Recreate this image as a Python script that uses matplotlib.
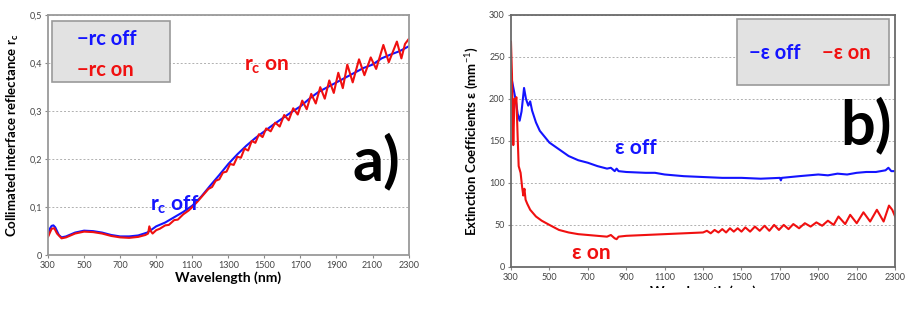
import matplotlib
matplotlib.use("Agg")
import matplotlib.pyplot as plt
from matplotlib.patches import Rectangle

plt.rcParams['font.family'] = ['Lato', 'DejaVu Sans']
plt.rcParams['mathtext.fontset'] = 'custom'
plt.rcParams['mathtext.bf'] = 'Lato:bold'
plt.rcParams['mathtext.rm'] = 'Lato'

BLUE = "#1414ff"
RED = "#f01010"

# ---------------------------------------------------------------------------
# Data
# ---------------------------------------------------------------------------
wl_a_off = [300, 310, 320, 330, 340, 350, 360, 375, 400, 450, 500, 550, 600,
            650, 700, 750, 800, 850, 870, 900, 950, 1000, 1050, 1100, 1150,
            1200, 1250, 1300, 1350, 1400, 1450, 1500, 1550, 1600, 1650, 1700,
            1750, 1800, 1850, 1900, 1950, 2000, 2050, 2100, 2150, 2200, 2250,
            2300]
rc_off = [0.040, 0.055, 0.061, 0.062, 0.058, 0.050, 0.042, 0.037, 0.039,
          0.047, 0.051, 0.050, 0.047, 0.042, 0.039, 0.039, 0.041, 0.047,
          0.052, 0.060, 0.068, 0.079, 0.090, 0.103, 0.122, 0.145, 0.167,
          0.190, 0.210, 0.228, 0.244, 0.258, 0.272, 0.285, 0.298, 0.310,
          0.326, 0.340, 0.350, 0.360, 0.370, 0.380, 0.390, 0.397, 0.410,
          0.418, 0.425, 0.435]

wl_a_on = [300, 320, 335, 350, 375, 400, 450, 500, 550, 600, 650, 700, 750,
           800, 840, 855, 862, 870, 880, 900, 920, 950, 970, 1000, 1020, 1050,
           1080, 1100, 1130, 1160, 1190, 1210, 1230, 1250, 1270, 1290, 1310,
           1330, 1350, 1370, 1390, 1410, 1430, 1450, 1470, 1490, 1510, 1535,
           1560, 1585, 1610, 1635, 1660, 1685, 1710, 1735, 1760, 1785, 1810,
           1835, 1860, 1885, 1910, 1935, 1960, 1990, 2025, 2055, 2090, 2120,
           2160, 2190, 2235, 2260, 2280, 2300]
rc_on = [0.038, 0.055, 0.056, 0.045, 0.035, 0.037, 0.045, 0.049, 0.048, 0.045,
         0.040, 0.037, 0.036, 0.038, 0.042, 0.045, 0.060, 0.050, 0.045, 0.052,
         0.055, 0.062, 0.063, 0.073, 0.074, 0.085, 0.093, 0.100, 0.112, 0.125,
         0.138, 0.142, 0.155, 0.158, 0.172, 0.174, 0.190, 0.188, 0.205, 0.203,
         0.222, 0.218, 0.238, 0.234, 0.252, 0.246, 0.264, 0.258, 0.276, 0.268,
         0.292, 0.281, 0.306, 0.293, 0.322, 0.304, 0.336, 0.316, 0.350, 0.326,
         0.364, 0.338, 0.380, 0.348, 0.397, 0.360, 0.408, 0.375, 0.412, 0.388,
         0.438, 0.402, 0.445, 0.410, 0.440, 0.450]

wl_b_off = [300, 305, 315, 325, 335, 345, 355, 368, 378, 390, 400, 410, 430,
            450, 475, 500, 550, 600, 650, 700, 750, 800, 820, 840, 850, 860,
            900, 1000, 1050, 1100, 1200, 1300, 1400, 1500, 1600, 1700, 1705,
            1710, 1800, 1900, 1950, 2000, 2050, 2100, 2150, 2200, 2250, 2265,
            2280, 2300]
eps_off = [230, 222, 210, 198, 182, 174, 185, 213, 200, 192, 197, 186, 172,
           162, 155, 148, 140, 132, 127, 124, 120, 117, 118, 114, 117, 114,
           113, 112, 112, 110, 108, 107, 106, 106, 105, 106, 103, 106, 108,
           110, 109, 111, 110, 112, 113, 113, 115, 118, 114, 114]

wl_b_on = [300, 305, 312, 318, 322, 328, 334, 340, 350, 358, 364, 370, 376,
           385, 400, 430, 460, 500, 550, 600, 650, 700, 750, 800, 820, 840,
           850, 860, 900, 1000, 1100, 1200, 1300, 1320, 1340, 1360, 1380,
           1400, 1420, 1440, 1460, 1480, 1500, 1520, 1545, 1570, 1595, 1620,
           1645, 1670, 1695, 1720, 1745, 1770, 1800, 1830, 1860, 1890, 1920,
           1950, 1980, 2005, 2040, 2066, 2100, 2135, 2170, 2205, 2240, 2268,
           2285, 2300]
eps_on = [268, 230, 145, 200, 195, 202, 160, 120, 112, 95, 85, 93, 80, 75, 68,
          60, 55, 50, 44, 41, 39, 38, 37, 36, 38, 34, 33, 36, 37, 38, 39, 40,
          41, 43, 40, 44, 41, 45, 41, 46, 42, 46, 42, 47, 42, 48, 43, 49, 43,
          50, 44, 50, 45, 51, 46, 52, 48, 53, 49, 55, 50, 60, 51, 62, 52, 65,
          54, 68, 54, 73, 68, 60]

x_ticks = [300, 500, 700, 900, 1100, 1300, 1500, 1700, 1900, 2100, 2300]
a_yticks = [0, 0.1, 0.2, 0.3, 0.4, 0.5]
a_ylabels = ["0", "0,1", "0,2", "0,3", "0,4", "0,5"]
b_yticks = [0, 50, 100, 150, 200, 250, 300]


def style_axes(ax, spine_color):
    for s in ax.spines.values():
        s.set_color(spine_color)
        s.set_linewidth(1.3)
    ax.tick_params(labelsize=6.5, labelcolor="#444444", length=2.5,
                   color="#888888", width=0.8, pad=2)
    ax.yaxis.grid(True, linestyle=(0, (2, 2)), color="#b0b0b0", linewidth=0.7)
    ax.set_axisbelow(True)
    ax.set_xlim(300, 2300)
    ax.set_xticks(x_ticks)


fig = plt.figure(figsize=(9.06, 3.10), dpi=100)

# ---------------------------------------------------------------------------
# a) collimated interface reflectance
# ---------------------------------------------------------------------------
ax1 = fig.add_axes([0.053, 0.177, 0.398, 0.774])
style_axes(ax1, "#9a9a9a")
ax1.plot(wl_a_off, rc_off, color=BLUE, lw=1.5)
ax1.plot(wl_a_on, rc_on, color=RED, lw=1.5)
ax1.set_ylim(0, 0.5)
ax1.set_yticks(a_yticks)
ax1.set_yticklabels(a_ylabels)
ax1.set_xlabel("Wavelength (nm)", fontsize=10, fontweight="bold", labelpad=1)
ax1.set_ylabel(r"Collimated interface reflectance $\mathbf{r_c}$",
               fontsize=9.5, fontweight="bold", labelpad=6)

ax1.add_patch(Rectangle((0.012, 0.72), 0.325, 0.255, transform=ax1.transAxes,
                        facecolor="#e2e2e2", edgecolor="#9a9a9a", lw=1.2,
                        zorder=4))
ax1.text(0.08, 0.9, "\u2212rc off", transform=ax1.transAxes, color=BLUE,
         fontsize=14.5, fontweight="bold", ha="left", va="center", zorder=5)
ax1.text(0.08, 0.77, "\u2212rc on", transform=ax1.transAxes, color=RED,
         fontsize=14.5, fontweight="bold", ha="left", va="center", zorder=5)
ax1.text(1510, 0.395, r"$\mathbf{r_c}$ on", color=RED, fontsize=15,
         fontweight="bold", ha="center", va="center")
ax1.text(1000, 0.105, r"$\mathbf{r_c}$ off", color=BLUE, fontsize=15,
         fontweight="bold", ha="center", va="center")
ax1.text(2120, 0.195, "a)", color="black", fontsize=44, fontweight="bold",
         ha="center", va="center")

# ---------------------------------------------------------------------------
# b) extinction coefficients
# ---------------------------------------------------------------------------
ax2 = fig.add_axes([0.564, 0.139, 0.424, 0.813])
style_axes(ax2, "#6a6a6a")
ax2.plot(wl_b_off, eps_off, color=BLUE, lw=1.5)
ax2.plot(wl_b_on, eps_on, color=RED, lw=1.5)
ax2.set_ylim(0, 300)
ax2.set_yticks(b_yticks)
ax2.set_xlabel("Wavelength (nm)", fontsize=10, fontweight="bold", labelpad=2)
ax2.set_ylabel("Extinction Coefficients \u03b5 (mm$^{-1}$)", fontsize=9.5,
               fontweight="bold", labelpad=6)

ax2.add_patch(Rectangle((0.588, 0.72), 0.395, 0.262, transform=ax2.transAxes,
                        facecolor="#e2e2e2", edgecolor="#9a9a9a", lw=1.2,
                        zorder=4))
ax2.text(0.62, 0.85, "\u2212\u03b5 off", transform=ax2.transAxes, color=BLUE,
         fontsize=14.5, fontweight="bold", ha="left", va="center", zorder=5)
ax2.text(0.81, 0.85, "\u2212\u03b5 on", transform=ax2.transAxes, color=RED,
         fontsize=14.5, fontweight="bold", ha="left", va="center", zorder=5)
ax2.text(950, 142, "\u03b5 off", color=BLUE, fontsize=15, fontweight="bold",
         ha="center", va="center")
ax2.text(720, 17, "\u03b5 on", color=RED, fontsize=15, fontweight="bold",
         ha="center", va="center")
ax2.text(2150, 168, "b)", color="black", fontsize=44, fontweight="bold",
         ha="center", va="center")

# the lower edge of panel b is cut off in the original
fig.patches.append(Rectangle((0.55, 0), 0.45, 0.071, transform=fig.transFigure,
                             facecolor="white", edgecolor="none", zorder=10))

fig.savefig("out.png", dpi=100)
